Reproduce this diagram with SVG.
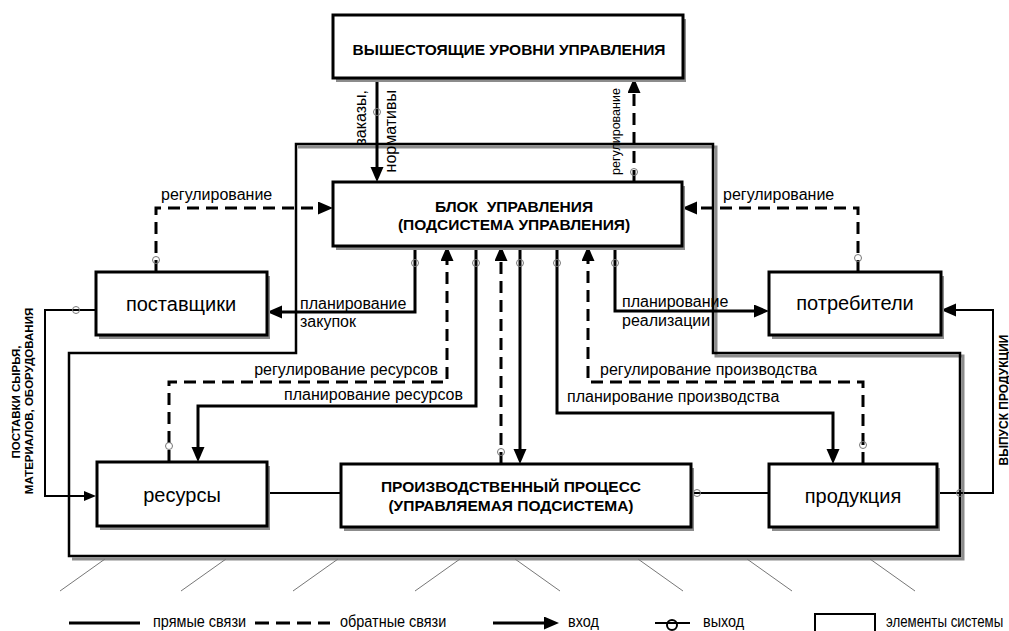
<svg xmlns="http://www.w3.org/2000/svg" width="1009" height="631" viewBox="0 0 1009 631">
<style>
text{font-family:"Liberation Sans",Arial,sans-serif;fill:#000}
.box{fill:#fff;stroke:#000;stroke-width:3}
.sh{fill:#8c8c8c}
.nt{font-size:20px;text-anchor:middle}
.bt{font-size:15.5px;font-weight:bold;text-anchor:middle}
.lb{font-size:16px}
.rb{font-size:11.5px;font-weight:bold;text-anchor:middle}
.s{fill:none;stroke:#000;stroke-width:3}
.s2{fill:none;stroke:#000;stroke-width:2}
.d{fill:none;stroke:#000;stroke-width:3;stroke-dasharray:12 7}
.o{fill:none;stroke:#777;stroke-width:1}
.h{stroke:#777;stroke-width:1}
.lg{font-size:17px}
</style>
<defs>
<marker id="ah" markerUnits="userSpaceOnUse" markerWidth="16" markerHeight="14" refX="9" refY="6.5" orient="auto"><path d="M0,0 L15,6.5 L0,13 z" fill="#000"/></marker>
<marker id="as" markerUnits="userSpaceOnUse" markerWidth="14" markerHeight="12" refX="7" refY="5" orient="auto"><path d="M0,0 L12,5 L0,10 z" fill="#000"/></marker>
</defs>

<g id="boundary">
<path d="M298,147 H716 V356 H963 V559 H72" fill="none" stroke="#8c8c8c" stroke-width="3"/>
<path d="M296,144 H713 V353 H960 V556 H69 V353 H296 Z" fill="none" stroke="#000" stroke-width="2.5"/>
<g class="h">
<line x1="105" y1="559" x2="60" y2="591"/>
<line x1="226" y1="559" x2="181" y2="591"/>
<line x1="338" y1="559" x2="293" y2="591"/>
<line x1="460" y1="559" x2="415" y2="591"/>
<line x1="515" y1="559" x2="560" y2="591"/>
<line x1="638" y1="559" x2="683" y2="591"/>
<line x1="747" y1="559" x2="792" y2="591"/>
<line x1="870" y1="559" x2="915" y2="591"/>
</g>
</g>

<g id="connectors">
<path class="s" d="M377,78 V176" marker-end="url(#ah)"/>
<path class="d" d="M634,182 V84" marker-end="url(#ah)"/>
<path class="d" d="M156,272 V208 H327" marker-end="url(#ah)"/>
<path class="d" d="M858,272 V208 H688" marker-end="url(#ah)"/>
<path class="s" d="M415,246 V312 H273" marker-end="url(#ah)"/>
<path class="d" d="M169,462 V382 H447 V252" marker-end="url(#ah)"/>
<path class="s" d="M476,246 V406 H198 V456" marker-end="url(#ah)"/>
<path class="d" d="M501,464 V252" marker-end="url(#ah)"/>
<path class="s" d="M520,246 V458" marker-end="url(#ah)"/>
<path class="s" d="M557,246 V413 H833 V458" marker-end="url(#ah)"/>
<path class="d" d="M863,464 V382 H588 V252" marker-end="url(#ah)"/>
<path class="s" d="M615,246 V311 H763" marker-end="url(#ah)"/>
<path class="s2" d="M937,493 H993 V310 H947" marker-end="url(#ah)"/>
<path class="s2" d="M96,310 H45 V496 H91" marker-end="url(#as)"/>
<path class="s2" d="M267,493 H341"/>
<path class="s2" d="M691,493 H769"/>
<g class="o">
<circle cx="377" cy="112" r="3.5"/>
<circle cx="634" cy="172" r="3.5"/>
<circle cx="156" cy="260" r="3.5"/>
<circle cx="858" cy="258" r="3.5"/>
<circle cx="415" cy="263" r="3.5"/>
<circle cx="476" cy="263" r="3.5"/>
<circle cx="520" cy="263" r="3.5"/>
<circle cx="557" cy="263" r="3.5"/>
<circle cx="615" cy="263" r="3.5"/>
<circle cx="169" cy="446" r="3.5"/>
<circle cx="501" cy="452" r="3.5"/>
<circle cx="863" cy="445" r="3.5"/>
<circle cx="697" cy="493" r="3.5"/>
<circle cx="960" cy="493" r="3.5"/>
<circle cx="76" cy="310" r="3.5"/>
</g>
<text class="lb" transform="translate(366,90) rotate(-90)" text-anchor="end">заказы,</text>
<text class="lb" transform="translate(396,90) rotate(-90)" text-anchor="end">нормативы</text>
<text transform="translate(619.5,175) rotate(-90)" font-size="12.5">регулирование</text>
<text class="lb" x="161" y="200">регулирование</text>
<text class="lb" x="723" y="200">регулирование</text>
<text class="lb" x="300" y="309">планирование</text>
<text class="lb" x="300" y="327">закупок</text>
<text class="lb" x="622" y="307">планирование</text>
<text class="lb" x="622" y="326">реализации</text>
<text class="lb" x="438" y="375" text-anchor="end">регулирование ресурсов</text>
<text class="lb" x="463" y="400" text-anchor="end">планирование ресурсов</text>
<text class="lb" x="600" y="375">регулирование производства</text>
<text class="lb" x="567" y="402">планирование производства</text>
<text class="rb" transform="translate(1008,400) rotate(-90)" style="font-size:12px">ВЫПУСК ПРОДУКЦИИ</text>
<text class="rb" transform="translate(20,402) rotate(-90)">ПОСТАВКИ СЫРЬЯ,</text>
<text class="rb" transform="translate(33,401) rotate(-90)">МАТЕРИАЛОВ, ОБОРУДОВАНИЯ</text>
</g>

<g id="top">
<rect class="sh" x="336" y="19" width="350" height="63"/>
<rect class="box" x="333" y="15" width="350" height="63"/>
<text class="bt" x="509" y="55">ВЫШЕСТОЯЩИЕ УРОВНИ УПРАВЛЕНИЯ</text>
</g>
<g id="control">
<rect class="sh" x="336" y="186" width="349" height="64"/>
<rect class="box" x="333" y="182" width="349" height="64"/>
<text class="bt" x="514" y="212" xml:space="preserve">БЛОК  УПРАВЛЕНИЯ</text>
<text class="bt" x="514" y="230">(ПОДСИСТЕМА УПРАВЛЕНИЯ)</text>
</g>
<g id="suppliers">
<rect class="sh" x="99" y="276" width="171" height="63"/>
<rect class="box" x="96" y="272" width="171" height="63"/>
<text class="nt" x="181" y="311">поставщики</text>
</g>
<g id="consumers">
<rect class="sh" x="772" y="276" width="172" height="63"/>
<rect class="box" x="769" y="272" width="172" height="63"/>
<text class="nt" x="855" y="310">потребители</text>
</g>
<g id="resources">
<rect class="sh" x="100" y="466" width="170" height="64"/>
<rect class="box" x="97" y="462" width="170" height="64"/>
<text class="nt" x="182" y="502">ресурсы</text>
</g>
<g id="process">
<rect class="sh" x="344" y="468" width="350" height="63"/>
<rect class="box" x="341" y="464" width="350" height="63"/>
<text class="bt" x="511" y="492">ПРОИЗВОДСТВЕННЫЙ ПРОЦЕСС</text>
<text class="bt" x="511" y="511">(УПРАВЛЯЕМАЯ ПОДСИСТЕМА)</text>
</g>
<g id="products">
<rect class="sh" x="772" y="468" width="168" height="63"/>
<rect class="box" x="769" y="464" width="168" height="63"/>
<text class="nt" x="853" y="503">продукция</text>
</g>

<g id="legend">
<line x1="69" y1="623" x2="140" y2="623" stroke="#000" stroke-width="3"/>
<text class="lg" transform="translate(153,627) scale(0.85,1)">прямые связи</text>
<line x1="255" y1="623" x2="330" y2="623" stroke="#000" stroke-width="3" stroke-dasharray="14 7"/>
<text class="lg" transform="translate(340,627) scale(0.85,1)">обратные связи</text>
<line x1="493" y1="623" x2="553" y2="623" stroke="#000" stroke-width="3" marker-end="url(#ah)"/>
<text class="lg" transform="translate(568,627) scale(0.85,1)">вход</text>
<line x1="655" y1="623" x2="690" y2="623" stroke="#000" stroke-width="2"/>
<circle cx="672" cy="625" r="5" fill="none" stroke="#000" stroke-width="2"/>
<text class="lg" transform="translate(703,627) scale(0.85,1)">выход</text>
<rect x="815" y="614" width="60" height="30" fill="none" stroke="#000" stroke-width="2"/>
<text class="lg" transform="translate(886,627) scale(0.78,1)">элементы системы</text>
</g>
</svg>
